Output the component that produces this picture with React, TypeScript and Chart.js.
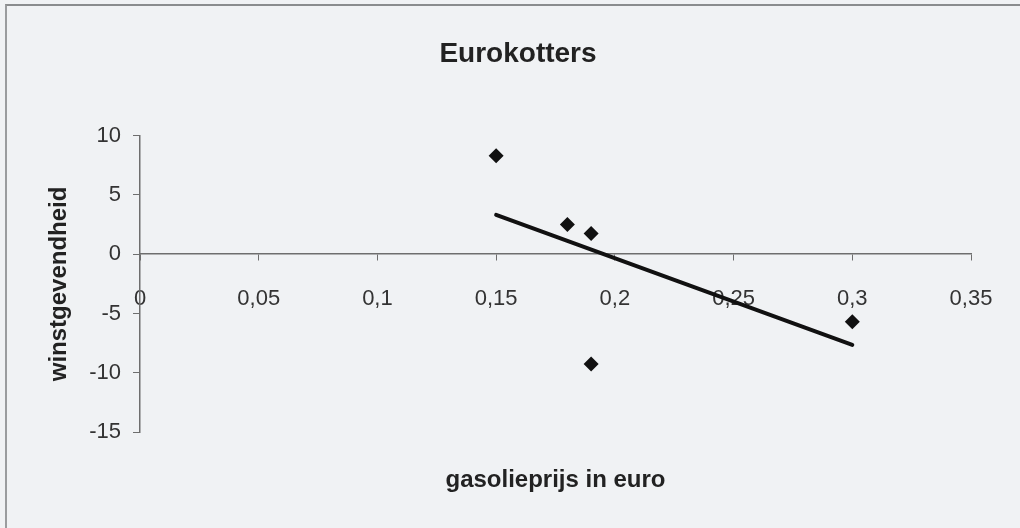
import React, { useEffect, useRef } from "react";
import { Chart, registerables } from "chart.js";

Chart.register(...registerables);

const xValues: number[] = [0.15, 0.18, 0.19, 0.19, 0.3];
const yValues: number[] = [8.3, 2.5, 1.75, -9.25, -5.7];
const xTickLabels: string[] = ["0", "0,05", "0,1", "0,15", "0,2", "0,25", "0,3", "0,35"];
const yTickLabels: string[] = ["-15", "-10", "-5", "0", "5", "10"];
const chartTitle = "Eurokotters";
const xTitle = "gasolieprijs in euro";
const yTitle = "winstgevendheid";

function linearTrend(xs: number[], ys: number[]) {
  const n = xs.length;
  const mx = xs.reduce((a, b) => a + b, 0) / n;
  const my = ys.reduce((a, b) => a + b, 0) / n;
  let sxx = 0;
  let sxy = 0;
  for (let i = 0; i < n; i++) {
    sxx += (xs[i] - mx) * (xs[i] - mx);
    sxy += (xs[i] - mx) * (ys[i] - my);
  }
  const slope = sxy / sxx;
  const x0 = Math.min(...xs);
  const x1 = Math.max(...xs);
  return [
    { x: x0, y: my + slope * (x0 - mx) },
    { x: x1, y: my + slope * (x1 - mx) },
  ];
}

const FONT = "'Liberation Sans', Arial, sans-serif";
const AXIS = "#6e6e6e";

export default function App() {
  const ref = useRef<HTMLCanvasElement | null>(null);

  useEffect(() => {
    if (!ref.current) return;
    const points = xValues.map((x, i) => ({ x, y: yValues[i] }));
    const trend = linearTrend(xValues, yValues);
    const chart = new Chart(ref.current, {
      type: "scatter",
      data: {
        datasets: [
          {
            type: "line",
            data: trend,
            borderColor: "#111",
            borderWidth: 4,
            pointRadius: 0,
            borderCapStyle: "round",
            fill: false,
          } as any,
          {
            data: points,
            backgroundColor: "#111",
            borderColor: "#111",
            pointStyle: "rectRot",
            pointRadius: 7.5,
            borderWidth: 0,
          },
        ],
      },
      options: {
        responsive: false,
        animation: false,
        devicePixelRatio: 1,
        layout: { padding: { left: 16, right: 0, top: 0, bottom: 0 } },
        plugins: {
          legend: { display: false },
          tooltip: { enabled: false },
          title: {
            display: true,
            text: chartTitle,
            color: "#222",
            font: { family: FONT, size: 28, weight: "bold" },
            padding: { top: 37, bottom: 65 },
          },
          subtitle: {
            display: true,
            position: "bottom",
            fullSize: false,
            text: xTitle,
            color: "#222",
            font: { family: FONT, size: 24, weight: "bold" },
            padding: { top: 34, bottom: 33 },
          },
        },
        scales: {
          x: {
            type: "linear",
            position: { y: 0 } as any,
            min: 0,
            max: 0.35,
            afterFit: (s: any) => {
              s.height = 0;
            },
            ticks: {
              stepSize: 0.05,
              color: "#333",
              font: { family: FONT, size: 22 },
              padding: 25,
              maxRotation: 0,
              autoSkip: false,
              callback: (_v: any, i: number) => xTickLabels[i],
            },
            grid: {
              display: true,
              drawOnChartArea: false,
              drawTicks: true,
              tickLength: 6,
              color: AXIS,
              lineWidth: 1,
            },
            border: { display: true, color: AXIS, width: 1.5 },
          },
          y: {
            type: "linear",
            position: "left",
            min: -15,
            max: 10,
            afterFit: (s: any) => {
              s.width = 124;
            },
            ticks: {
              stepSize: 5,
              color: "#333",
              font: { family: FONT, size: 22 },
              padding: 12,
              autoSkip: false,
              callback: (_v: any, i: number) => yTickLabels[i],
            },
            grid: {
              display: true,
              drawOnChartArea: false,
              drawTicks: true,
              tickLength: 7,
              color: AXIS,
              lineWidth: 1,
            },
            border: { display: true, color: AXIS, width: 1.5 },
            title: {
              display: true,
              text: yTitle,
              color: "#222",
              font: { family: FONT, size: 24, weight: "bold" },
              padding: { top: 29, bottom: 0 },
            },
          },
          yRight: {
            type: "linear",
            position: "right",
            min: -15,
            max: 10,
            display: true,
            afterFit: (s: any) => {
              s.width = 49;
            },
            ticks: { display: false },
            grid: { display: false, drawTicks: false },
            border: { display: false },
          },
        },
      },
    });
    return () => chart.destroy();
  }, []);

  return (
    <div
      style={{
        position: "fixed",
        left: 0,
        top: 0,
        width: 1020,
        height: 528,
        background: "#f0f2f4",
        overflow: "hidden",
      }}
    >
      <div
        style={{
          position: "absolute",
          left: 5,
          top: 4,
          right: -4,
          bottom: -4,
          borderTop: "2px solid #8a8c8e",
          borderLeft: "2px solid #9a9c9e",
        }}
      />
      <canvas
        ref={ref}
        width={1020}
        height={528}
        style={{ position: "absolute", left: 0, top: 0, width: 1020, height: 528 }}
      />
    </div>
  );
}
